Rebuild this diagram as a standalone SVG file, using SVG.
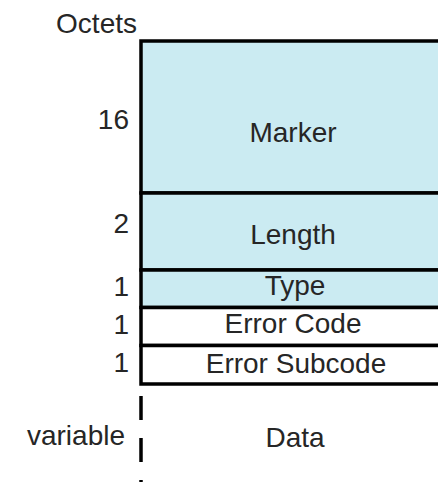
<svg xmlns="http://www.w3.org/2000/svg" width="438" height="482" viewBox="0 0 438 482">
  <style>
    text { font-family: "Liberation Sans", Arial, sans-serif; font-size: 28px; fill: #262626; }
    .mid { text-anchor: middle; }
    .num { text-anchor: end; }
    .field { stroke: #000; stroke-width: 3.5; }
    .blue { fill: #CBEBF2; }
    .white { fill: #FFFFFF; }
    .dash { stroke: #000; stroke-width: 3.5; stroke-dasharray: 24 18; fill: none; }
  </style>

  <!-- column heading -->
  <text id="heading" class="num" x="137" y="33">Octets</text>

  <!-- header fields, stacked top to bottom; the block runs off the right edge -->
  <g id="marker">
    <rect class="field blue" x="141" y="41" width="320" height="152"/>
    <text class="num" x="129" y="129">16</text>
    <text class="mid" x="293" y="142">Marker</text>
  </g>
  <g id="length">
    <rect class="field blue" x="141" y="193" width="320" height="77"/>
    <text class="num" x="129" y="233">2</text>
    <text class="mid" x="293" y="244">Length</text>
  </g>
  <g id="type">
    <rect class="field blue" x="141" y="270" width="320" height="37.5"/>
    <text class="num" x="129" y="296">1</text>
    <text class="mid" x="295" y="295">Type</text>
  </g>
  <g id="error-code">
    <rect class="field white" x="141" y="307.5" width="320" height="38"/>
    <text class="num" x="129" y="334">1</text>
    <text class="mid" x="293" y="333">Error Code</text>
  </g>
  <g id="error-subcode">
    <rect class="field white" x="141" y="345.5" width="320" height="38.5"/>
    <text class="num" x="129" y="372">1</text>
    <text class="mid" x="296" y="373">Error Subcode</text>
  </g>
  <g id="data">
    <text class="num" x="125" y="445">variable</text>
    <text class="mid" x="295" y="447">Data</text>
  </g>

  <!-- open-ended boundary of the variable-length data -->
  <g id="connectors">
    <line class="dash" x1="141" y1="396" x2="141" y2="482"/>
  </g>
</svg>
